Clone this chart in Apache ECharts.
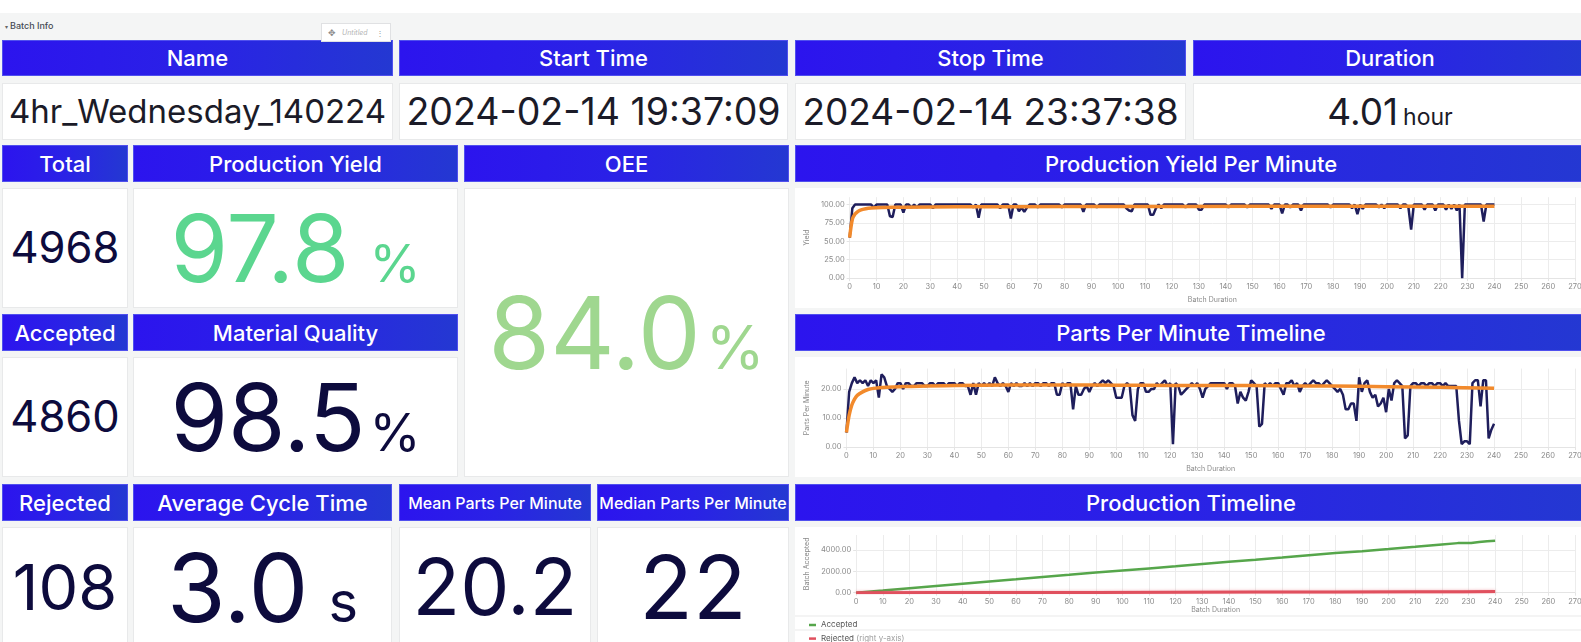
<!DOCTYPE html>
<html><head><meta charset="utf-8">
<script src="https://cdn.jsdelivr.net/npm/echarts@6/dist/echarts.min.js"></script>
<style>
html,body{margin:0;padding:0;width:1581px;height:642px;overflow:hidden;background:#f4f5f5;font-family:Inter,"Noto Sans",sans-serif;}
#page{position:absolute;left:0;top:0;width:1581px;height:642px;overflow:hidden;}
#topstrip{position:absolute;left:0;top:0;width:1581px;height:13px;background:#fff;}
#rowtitle{position:absolute;left:5px;top:20px;font-size:9px;font-weight:500;color:#464c54;}
#untitled{position:absolute;left:321px;top:23px;width:70px;height:19px;background:#fff;border:1px solid #e0e1e3;box-sizing:border-box;font-size:7px;color:#b4b4b4;display:flex;align-items:center;z-index:5;}
.hdr{position:absolute;background:linear-gradient(90deg,#2c14ee 0%,#2a22e6 50%,#2438d2 100%);color:#fff;font-weight:500;font-size:22px;display:flex;align-items:center;justify-content:center;box-sizing:border-box;border:1px solid #5050ee;white-space:nowrap;overflow:hidden;}
.box{position:absolute;background:#fff;border:1px solid #e8e9ea;box-sizing:border-box;display:flex;align-items:center;justify-content:center;overflow:hidden;}
.val{line-height:1;white-space:nowrap;display:flex;align-items:baseline;}
.chart{position:absolute;}
</style></head>
<body><div id="page">
<div id="topstrip"></div>
<div id="rowtitle"><span style="font-size:6px;color:#666;margin-right:2px">▾</span>Batch Info</div>
<div id="untitled"><span style="margin-left:6px;font-size:9px;color:#8a8a8a">✥</span><span style="margin-left:6px;font-style:italic">Untitled</span><span style="margin-left:auto;margin-right:6px;color:#999;font-size:8px">⋮</span></div>
<div id="panels"></div>
<div id="c1" class="chart" style="left:795px;top:188px;width:790px;height:120px;background:#fff;"></div>
<div id="c2" class="chart" style="left:795px;top:357px;width:790px;height:120px;background:#fff;"></div>
<div id="c3" class="chart" style="left:795px;top:527px;width:790px;height:130px;background:#fff;"></div>
</div>
<script>
// ---------------- DATA ----------------
const headerTitles = ['Name','Start Time','Stop Time','Duration','Total','Production Yield','OEE','Production Yield Per Minute','Accepted','Material Quality','Parts Per Minute Timeline','Rejected','Average Cycle Time','Mean Parts Per Minute','Median Parts Per Minute','Production Timeline'];
const batchName = '4hr_Wednesday_140224';
const startTime = '2024-02-14 19:37:09';
const stopTime = '2024-02-14 23:37:38';
const durationHours = '4.01';
const totalParts = '4968';
const acceptedParts = '4860';
const rejectedParts = '108';
const productionYield = '97.8';
const oeeValue = '84.0';
const materialQuality = '98.5';
const avgCycleTime = '3.0';
const meanPartsPerMinute = '20.2';
const medianPartsPerMinute = '22';

// yield per minute (%), minute 0..240
const yieldPerMinute = [
55,95,100,100,100,100,100,100,100,96,
100,100,100,100,100,84,83,100,100,100,
89,100,100,96,100,96,100,100,100,100,
100,95,100,100,100,100,100,100,100,100,
100,100,100,100,100,100,96,100,82,100,
100,100,100,100,100,100,95,100,100,100,
81,100,100,91,96,90,96,100,100,100,
96,100,100,100,100,100,100,100,100,96,
100,100,100,100,100,100,100,90,100,100,
100,100,96,100,100,100,100,100,100,100,
100,100,100,95,92,91,100,100,100,100,
100,100,86,86,95,100,95,100,100,100,
100,100,100,100,100,96,100,100,100,100,
93,93,100,100,100,100,100,100,100,100,
100,96,100,100,100,100,100,100,96,100,
100,100,100,100,100,100,100,94,100,100,
100,88,100,100,96,100,100,100,92,100,
100,100,100,100,100,100,100,100,100,96,
100,100,100,100,100,100,100,95,100,87,
100,94,100,100,100,100,100,96,100,95,
100,100,100,100,100,95,100,100,96,66,
100,100,100,100,93,100,100,100,92,100,
100,100,93,100,94,100,92,100,0,100,
100,100,100,100,100,100,77,100,100,100,
100];
// running average of yield
const yieldAvgX = [0,1,2,3,4,6,8,12,20,40,60,100,150,200,240];
const yieldAvgY = [55,80,87,90.5,92.5,94.3,95.2,95.9,96.4,96.9,97.1,97.4,97.6,97.8,97.8];

// parts per minute, minute 0..240
const partsPerMinute = [
5,19,22,24,22,23,22,23,21,23,
22,23,17,25,24,21,20,19,20,22,
22,20,22,22,21,21,22,22,22,21,
21,22,22,21,22,22,22,21,22,22,
22,21,22,22,21,21,18,22,18,22,
21,22,21,22,21,24,22,21,22,21,
19,22,21,22,21,21,22,21,22,21,
22,22,21,22,22,21,22,22,18,18,
22,21,22,22,13,21,18,18,20,21,
19,21,22,21,22,23,22,23,22,21,
17,17,17,21,22,21,11,9,20,22,
22,19,19,20,20,22,21,22,23,21,
22,1,22,21,18,19,20,21,22,21,
22,20,17,20,21,22,22,22,22,22,
22,20,22,22,21,15,19,17,16,19,
23,22,21,7,8,22,21,22,21,22,
22,20,18,22,22,23,21,22,19,21,
22,21,22,23,22,22,21,22,23,22,
21,20,19,20,18,13,13,15,15,9,
24,19,22,23,19,17,18,14,15,17,
12,20,16,22,23,22,21,3,4,21,
22,22,21,22,22,21,22,22,21,22,
22,21,22,21,21,21,21,9,1,2,
2,1,22,23,23,14,23,23,3,6,
8];
const partsAvgX = [0,1,2,3,4,6,8,10,15,20,40,80,100,120,140,160,180,200,220,240];
const partsAvgY = [5,11,14.5,16.5,17.8,19,19.8,20.2,20.6,20.8,21.2,21.4,21.3,21.2,21.2,21.1,21,20.8,20.6,20.2];

// cumulative accepted / rejected parts
const acceptedX = [0,10,20,30,40,50,60,70,80,90,100,110,120,130,140,150,160,170,180,190,200,210,220,226,228,231,234,237,240];
const acceptedY = [0,200,410,620,830,1040,1250,1465,1670,1880,2080,2275,2470,2680,2890,3080,3290,3505,3715,3880,4080,4290,4510,4640,4650,4655,4740,4820,4860];
const rejectedX = [0,30,60,90,120,150,180,210,228,240];
const rejectedY = [0,10,20,30,48,58,68,88,100,108];

// ---------------- LAYOUT ----------------
const headerBoxes = [
 [2,40,391,36,22],[399,40,389,36,22],[795,40,391,36,22],[1193,40,394,36,22],
 [2,145,126,37,22],[133,145,325,37,22],[464,145,325,37,22],[795,145,792,37,22],
 [2,314,126,37,22],[133,314,325,37,22],[795,314,792,37,22],
 [2,484,126,37,22],[133,484,259,37,22],[399,484,192,37,16],[597,484,192,37,16],[795,484,792,37,22]
];
const NAVY='#0d0b3d', ROW1='#1b1b28';
const valueBoxes = [
 {b:[2,83,391,57], v:batchName, s:33, c:ROW1},
 {b:[399,83,389,57], v:startTime, s:37.5, c:ROW1},
 {b:[795,83,391,57], v:stopTime, s:37, c:ROW1},
 {b:[1193,83,394,57], v:durationHours, s:37, c:ROW1, u:'hour', us:23, ug:5},
 {b:[2,188,126,120], v:totalParts, s:43.5, c:NAVY},
 {b:[133,188,325,120], v:productionYield, s:93, c:'#5bd68f', u:'%', us:52, ug:20},
 {b:[464,188,325,289], v:oeeValue, s:100, c:'#9fd78f', u:'%', us:60, ug:5},
 {b:[2,357,126,120], v:acceptedParts, s:43.5, c:NAVY},
 {b:[133,357,325,120], v:materialQuality, s:93, c:NAVY, u:'%', us:52, ug:4},
 {b:[2,527,126,120], v:rejectedParts, s:63, c:NAVY},
 {b:[133,527,259,120], v:avgCycleTime, s:95, c:NAVY, u:'s', us:56, ug:20},
 {b:[399,527,192,120], v:meanPartsPerMinute, s:78, c:NAVY},
 {b:[597,527,192,120], v:medianPartsPerMinute, s:88, c:NAVY}
];
const panels = document.getElementById('panels');
headerBoxes.forEach((h,i)=>{
  const d=document.createElement('div'); d.className='hdr';
  d.style.cssText=`left:${h[0]}px;top:${h[1]}px;width:${h[2]}px;height:${h[3]}px;font-size:${h[4]}px;`;
  d.textContent=headerTitles[i]; panels.appendChild(d);
});
valueBoxes.forEach(o=>{
  const d=document.createElement('div'); d.className='box';
  d.style.cssText=`left:${o.b[0]}px;top:${o.b[1]}px;width:${o.b[2]}px;height:${o.b[3]}px;`;
  const v=document.createElement('div'); v.className='val'; v.style.color=o.c;
  const n=document.createElement('span'); n.textContent=o.v; n.style.fontSize=o.s+'px'; v.appendChild(n);
  if(o.u){const u=document.createElement('span'); u.textContent=o.u; u.style.fontSize=o.us+'px'; u.style.marginLeft=o.ug+'px'; v.appendChild(u);}
  d.appendChild(v); panels.appendChild(d);
});

// ---------------- CHARTS ----------------
const GRID='#ececec', LBL='#8a8a8a';
function xAx(){return {type:'value',min:0,max:270,interval:10,name:'Batch Duration',nameLocation:'middle',nameGap:14,
  nameTextStyle:{color:LBL,fontSize:7,fontFamily:'Inter'},
  axisLine:{show:true,lineStyle:{color:'#e4e4e4'}},axisTick:{show:true,length:3,lineStyle:{color:'#e4e4e4'}},
  axisLabel:{color:LBL,fontSize:7.5,margin:5,fontFamily:'Inter'},splitLine:{show:true,lineStyle:{color:GRID}}};}
function yAx(name,max,interval,nameGap){return {type:'value',min:0,max:max,interval:interval,name:name,nameLocation:'middle',nameGap:nameGap,
  nameTextStyle:{color:LBL,fontSize:7,fontFamily:'Inter'},axisLine:{show:false},
  axisTick:{show:true,length:3,lineStyle:{color:'#e4e4e4'}},
  axisLabel:{color:LBL,fontSize:7.5,margin:5,showMaxLabel:false,fontFamily:'Inter',formatter:v=>v.toFixed(2)},
  splitLine:{show:true,showMaxLine:false,lineStyle:{color:GRID}}};}
const pairs=(xs,ys)=>xs.map((x,i)=>[x,ys[i]]);
const idx=arr=>arr.map((v,i)=>[i,v]);
const BLUE='#1f1e5c', ORANGE='#f28a2c';

const c1=echarts.init(document.getElementById('c1'),null,{renderer:'canvas'});
c1.setOption({animation:false,grid:{left:47,top:9.2,height:85.5,right:10},
  xAxis:xAx(),yAxis:yAx('Yield',110,25,36),
  series:[
   {type:'line',data:idx(yieldPerMinute),showSymbol:false,lineStyle:{color:BLUE,width:2.5},z:2},
   {type:'line',data:pairs(yieldAvgX,yieldAvgY),showSymbol:false,smooth:0.3,lineStyle:{color:ORANGE,width:3.5},z:3}
  ]});

const c2=echarts.init(document.getElementById('c2'));
c2.setOption({animation:false,grid:{left:45,top:11.6,height:82.4,right:10},
  xAxis:xAx(),yAxis:yAx('Parts Per Minute',27,10,33),
  series:[
   {type:'line',data:idx(partsPerMinute),showSymbol:false,lineStyle:{color:BLUE,width:2.5},z:2},
   {type:'line',data:pairs(partsAvgX,partsAvgY),showSymbol:false,smooth:0.3,lineStyle:{color:ORANGE,width:3.5},z:3}
  ]});

const c3=echarts.init(document.getElementById('c3'));
c3.setOption({animation:false,grid:{left:52,top:8,height:57.7,right:10},
  xAxis:xAx(),
  yAxis:[yAx('Batch Accepted',5400,2000,41),{type:'value',min:0,max:5400,show:false,position:'right'}],
  legend:{orient:'vertical',left:9,top:88,itemWidth:7,itemHeight:2.5,itemGap:3.6,icon:'rect',
    textStyle:{color:'#555',fontSize:8,lineHeight:10,fontFamily:'Inter',rich:{g:{color:'#a0a0a0',fontSize:8,fontFamily:'Inter'}}},
    formatter:n=>n==='Rejected'?'Rejected {g|(right y-axis)}':n,data:['Accepted','Rejected']},
  graphic:[
    {type:'line',shape:{x1:0,y1:89,x2:790,y2:89},style:{stroke:'#e9e9e9',lineWidth:1},silent:true},
    {type:'line',shape:{x1:0,y1:103,x2:790,y2:103},style:{stroke:'#e9e9e9',lineWidth:1},silent:true}
  ],
  series:[
   {name:'Accepted',type:'line',data:pairs(acceptedX,acceptedY),showSymbol:false,color:'#56a64b',lineStyle:{color:'#56a64b',width:2.5}},
   {name:'Rejected',type:'line',yAxisIndex:1,data:pairs(rejectedX,rejectedY),showSymbol:false,color:'#e0505e',lineStyle:{color:'#e0505e',width:3,shadowColor:'rgba(224,80,94,0.45)',shadowBlur:3}}
  ]});
</script>
</body></html>
